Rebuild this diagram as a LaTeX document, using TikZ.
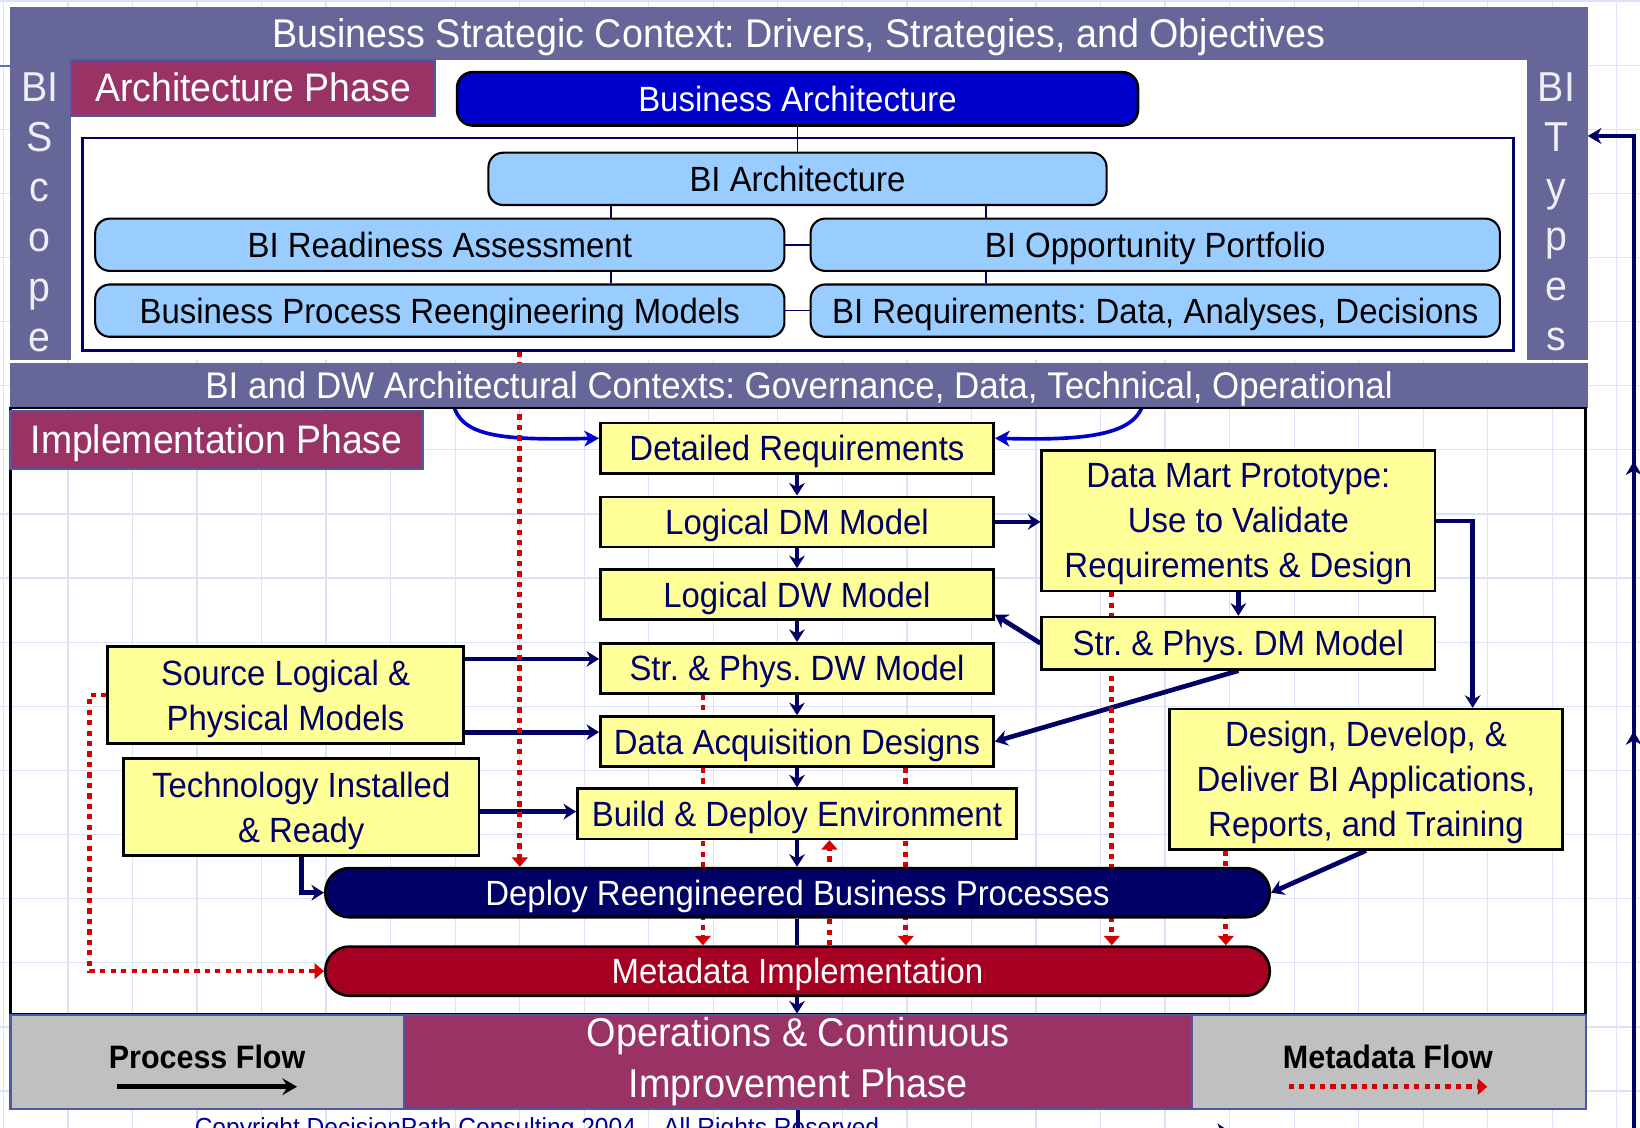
\documentclass[tikz,border=0pt]{standalone}
\usepackage{fontspec}
\setmainfont{Liberation Sans}[FakeStretch=0.94]
\usetikzlibrary{arrows.meta,decorations.markings}
\pgfdeclarelayer{bg}
\pgfdeclarelayer{links}
\pgfsetlayers{bg,links,main}
\frenchspacing

\definecolor{slate}{HTML}{666699}
\definecolor{plum}{HTML}{993366}
\definecolor{royal}{HTML}{0000CC}
\definecolor{sky}{HTML}{99CCFF}
\definecolor{dnavy}{HTML}{000066}
\definecolor{butter}{HTML}{FFFF99}
\definecolor{crimson}{HTML}{A50021}
\definecolor{metared}{HTML}{D60000}
\definecolor{silver}{HTML}{C0C0C0}
\definecolor{gridblue}{HTML}{DCE3F6}
\definecolor{rim}{HTML}{4A5AA8}
\definecolor{lavwhite}{HTML}{EEEEF7}
\definecolor{stubblue}{HTML}{5A6AD6}

\tikzset{
  capA/.style={text height=24pt, text depth=0pt},
  gridline/.style={draw=gridblue, line width=1.2pt},
  archbox/.style={draw=black, line width=2pt, fill=sky, rounded corners=14pt,
    minimum width=659pt, minimum height=50pt, inner sep=0pt, text=black, capA},
  ybox/.style={draw=black, line width=2.5pt, fill=butter, text=dnavy, inner sep=0pt,
    minimum width=376pt, minimum height=48pt},
  yone/.style={ybox, capA},
  ymulti/.style={ybox, align=center, font=\fontsize{33.5}{43}\selectfont, text depth=0pt},
  pill/.style={draw=black, line width=2.5pt, rounded corners=23pt, minimum width=903pt,
    minimum height=47pt, text=white, inner sep=0pt, capA},
  phase/.style={fill=plum, draw=rim, line width=2pt, text=white, inner sep=0pt,
    font=\fontsize{38}{44}\selectfont, text height=27pt, text depth=0pt},
  legendbox/.style={fill=silver, draw=rim, line width=2pt, minimum width=376pt,
    minimum height=90pt, inner sep=0pt},
  legendtext/.style={font=\fontsize{31}{36}\selectfont\bfseries, text=black,
    inner sep=0pt, text height=22pt, text depth=0pt},
  sidetext/.style={text=lavwhite, font=\fontsize{40}{44}\selectfont, anchor=base, inner sep=0pt},
  archlink/.style={draw=dnavy, line width=1.6pt},
  flowline/.style={draw=dnavy, line width=4.5pt},
  flowarrow/.style={flowline, -{Stealth[length=12pt,width=15pt,inset=4pt]}},
  metaarrow/.style={draw=metared, line width=4.5pt, dash pattern=on 5pt off 5pt,
    -{Triangle[length=9pt,width=15pt]}},
  ctxcurve/.style={draw=royal, line width=3.5pt, -{Stealth[length=14pt,width=15pt,inset=4pt]}},
  loopline/.style={draw=dnavy, line width=4pt, -{Stealth[length=13pt,width=15pt,inset=4pt]}},
}

\begin{document}
\begin{tikzpicture}[x=1pt, y=-1pt, font=\fontsize{33.5}{40}\selectfont]
\useasboundingbox (0,0) rectangle (1568,1078);

% page, faint grid and the architecture frame
\begin{pgfonlayer}{bg}
  \fill[white] (0,0) rectangle (1568,1078);
  \foreach \gx in {3.3,65,...,1568} \draw[gridline] (\gx,0) -- (\gx,1078);
  \foreach \gy in {1,62.3,...,1078} \draw[gridline] (0,\gy) -- (1568,\gy);
  \fill[slate] (10,7) rectangle (1518,344);
  \fill[white] (68,57) rectangle (1460,344);
\end{pgfonlayer}

% strategic context band and architectural context band
\node[text=white, anchor=base, inner sep=0pt, font=\fontsize{38.3}{42}\selectfont] (strat) at (764,45)
  {Business Strategic Context: Drivers, Strategies, and Objectives};
\node[fill=slate, text=white, minimum width=1508pt, minimum height=43pt, inner sep=0pt,
  font=\fontsize{35.5}{40}\selectfont, text height=25.5pt, text depth=0pt]
  (ctx) at (764,368.5) {BI and DW Architectural Contexts: Governance, Data, Technical, Operational};

% side columns
\foreach \ch [count=\i] in {BI,S,c,o,p,e}
  \node[sidetext] (scope\i) at (38,{97+47.8*(\i-1)}) {\ch};
\foreach \ch [count=\i] in {BI,T,y,p,e,s}
  \node[sidetext] (types\i) at (1488,{97+47.6*(\i-1)}) {\ch};

% architecture phase
\node[phase, minimum width=348pt, minimum height=54pt] (archph) at (242,84) {Architecture Phase};
\node[draw=black, line width=2.5pt, fill=royal, rounded corners=15pt, minimum width=651pt,
  minimum height=51pt, inner sep=0pt, text=white, capA] (bizarch) at (762.5,94.5) {Business Architecture};
\node[draw=dnavy, line width=2.5pt, minimum width=1368pt, minimum height=203pt, inner sep=0pt]
  (archframe) at (763,233.5) {};
\node[archbox, minimum width=591pt] (biarch) at (762.5,171) {BI Architecture};
\node[archbox] (ready) at (420.5,234) {BI Readiness Assessment};
\node[archbox] (opp) at (1104.5,234) {BI Opportunity Portfolio};
\node[archbox] (bpr) at (420.5,297) {Business Process Reengineering Models};
\node[archbox] (req) at (1104.5,297) {BI Requirements: Data, Analyses, Decisions};

% implementation phase
\draw[black, line width=2.5pt] (10,390) rectangle (1516,970);
\node[phase, minimum width=394pt, minimum height=55pt] (implph) at (207,420.5) {Implementation Phase};

\node[yone] (detreq) at (762,428.5) {Detailed Requirements};
\node[yone] (ldm) at (762,499) {Logical DM Model};
\node[yone] (ldw) at (762,568.5) {Logical DW Model};
\node[yone] (spdw) at (762,639) {Str. \& Phys. DW Model};
\node[yone] (dad) at (762,709) {Data Acquisition Designs};
\node[yone, minimum width=420pt] (bde) at (762,778) {Build \& Deploy Environment};
\node[ymulti, minimum height=134pt] (dmp) at (1184,498)
  {Data Mart Prototype:\\Use to Validate\\Requirements \& Design};
\node[yone, minimum height=50pt] (spdm) at (1184,615) {Str. \& Phys. DM Model};
\node[ymulti, minimum width=340pt, minimum height=93pt] (src) at (273,664.5)
  {Source Logical \&\\Physical Models};
\node[ymulti, minimum width=340pt, minimum height=93pt] (tech) at (288,771.5)
  {Technology Installed\\\& Ready};
\node[ymulti, minimum height=134pt] (ddd) at (1306,745)
  {Design, Develop, \&\\Deliver BI Applications,\\Reports, and Training};

\node[pill, fill=dnavy] (deploy) at (762.5,853.5) {Deploy Reengineered Business Processes};
\node[pill, fill=crimson] (meta) at (762.5,928.5) {Metadata Implementation};

% bottom row: legends and operations phase
\node[legendbox] (procbox) at (198,1015) {};
\node[legendtext] (proclabel) at (198,1011) {Process Flow};
\node[fill=plum, draw=rim, line width=2pt, minimum width=754pt, minimum height=90pt, inner sep=0pt,
  text=white, align=center, font=\fontsize{38.5}{49}\selectfont] (ops) at (763,1015)
  {Operations \& Continuous\\Improvement Phase};
\node[legendbox] (metabox) at (1328,1015) {};
\node[legendtext] (metalabel) at (1327,1011) {Metadata Flow};
\node[text=dnavy!70!blue, anchor=base west, inner sep=0pt, font=\fontsize{25}{30}\selectfont]
  (copy) at (186,1087) {Copyright DecisionPath Consulting 2004 -- All Rights Reserved};

\coordinate (pfa) at (112,1039);
\coordinate (pfb) at (284,1039);
\coordinate (mfa) at (1232,1039);
\coordinate (mfb) at (1422,1039);
\coordinate (ctxl) at (433,385);
\coordinate (ctxr) at (1093,385);
\coordinate (typesin) at (1518,130);
\coordinate (loopturn) at (1562,1083);
\coordinate (stuba) at (0,63);
\coordinate (stubb) at (10,63);

\begin{pgfonlayer}{links}
  % architecture phase links
  \draw[archlink] (bizarch.south) -- (biarch.north);
  \draw[archlink] (biarch.south -| 584,0) -- (ready.north -| 584,0);
  \draw[archlink] (biarch.south -| 943,0) -- (opp.north -| 943,0);
  \draw[archlink] (ready.south -| 584,0) -- (bpr.north -| 584,0);
  \draw[archlink] (opp.south -| 943,0) -- (req.north -| 943,0);
  \draw[archlink] (ready) -- (opp);
  \draw[archlink] (bpr) -- (req);
  \draw[stubblue, line width=2pt] (stuba) -- (stubb);

  % context inputs
  \draw[ctxcurve] (ctxl) .. controls (440,418) and (480,421) .. (detreq.west |- 0,419);
  \draw[ctxcurve] (ctxr) .. controls (1086,418) and (1030,421) .. (detreq.east |- 0,419);

  % process flow
  \draw[flowarrow] (detreq) -- (ldm);
  \draw[flowarrow] (ldm) -- (ldw);
  \draw[flowarrow] (ldw) -- (spdw);
  \draw[flowarrow] (spdw) -- (dad);
  \draw[flowarrow] (dad) -- (bde);
  \draw[flowarrow] (bde.south) -- (bde.south |- deploy.north);
  \draw[flowline] (deploy.south -| bde.south) -- (meta.north -| bde.south);
  \draw[flowarrow] (meta.south -| bde.south) -- (ops.north -| bde.south);
  \draw[flowarrow] (ldm.east) -- (ldm.east -| dmp.west);
  \draw[flowarrow] (dmp) -- (spdm);
  \draw[flowarrow] (spdm.west) -- ([yshift=6pt]ldw.south east);
  \draw[flowarrow] (spdm.south) -- (dad.east);
  \draw[flowarrow] (dmp.east) -| (ddd.north -| 1408,0);
  \draw[flowarrow] (src.east |- 0,630) -- (spdw.west |- 0,630);
  \draw[flowarrow] (src.east |- 0,700) -- (dad.west |- 0,700);
  \draw[flowarrow] (tech.east |- 0,776) -- (bde.west |- 0,776);
  \draw[flowarrow] (tech.south) |- (deploy.west);
  \draw[flowarrow] (ddd.south) -- (deploy.east);
  \draw[loopline, postaction={decorate}, decoration={markings,
      mark=at position 436pt with {\arrow{Stealth[length=13pt,width=18pt,inset=4pt]}},
      mark=at position 1205pt with {\arrow{Stealth[length=13pt,width=15pt,inset=4pt]}},
      mark=at position 1463pt with {\arrow{Stealth[length=13pt,width=15pt,inset=4pt]}}}]
    (ops.south) |- (loopturn) |- (typesin);

  % metadata flow
  \draw[metaarrow] (archframe.south -| 497,0) -- (deploy.north -| 497,0);
  \draw[metaarrow] (spdw.south -| 672,0) -- (meta.north -| 672,0);
  \draw[metaarrow] (dad.south -| 866,0) -- (meta.north -| 866,0);
  \draw[metaarrow] (meta.north -| 793,0) -- (bde.south -| 793,0);
  \draw[metaarrow] (dmp.south -| 1063,0) -- (meta.north -| 1063,0);
  \draw[metaarrow] (ddd.south -| 1172,0) -- (meta.north -| 1172,0);
  \draw[metaarrow] (src.west) -- ++(-16,0) |- (meta.west);
\end{pgfonlayer}

% legend arrows
\draw[black, line width=5pt, -{Stealth[length=14pt,width=16pt,inset=5pt]}] (pfa) -- (pfb);
\draw[metaarrow] (mfa) -- (mfb);
\end{tikzpicture}
\end{document}
